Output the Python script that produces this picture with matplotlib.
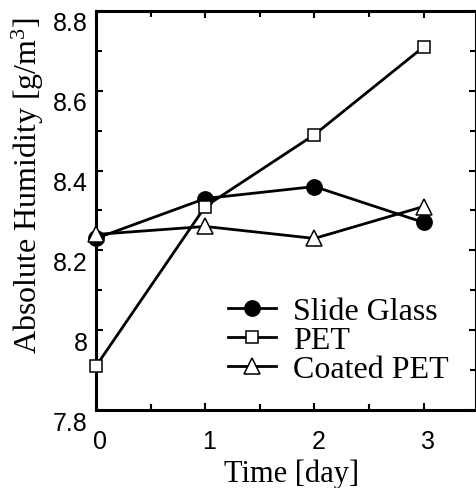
import matplotlib

matplotlib.use("Agg")

import matplotlib.pyplot as plt
import matplotlib.transforms as mtransforms
from matplotlib.ticker import MultipleLocator

# datos
days = [0, 1, 2, 3]
slide_glass = [8.23, 8.33, 8.36, 8.27]
pet = [7.91, 8.31, 8.49, 8.71]
coated_pet = [8.24, 8.26, 8.23, 8.31]
series_labels = ["Slide Glass", "PET", "Coated PET"]
yticks = [7.8, 8.0, 8.2, 8.4, 8.6, 8.8]
ytick_labels = ["7.8", "8", "8.2", "8.4", "8.6", "8.8"]

plt.rcParams["mathtext.fontset"] = "custom"
plt.rcParams["mathtext.rm"] = "Liberation Serif"
plt.rcParams["mathtext.it"] = "Liberation Serif"

fig = plt.figure(figsize=(4.77, 4.89), dpi=100)
ax = fig.add_axes([0.2013, 0.1595, 0.7967, 0.816])

kw = dict(color="black", linewidth=2.0, markeredgewidth=1.1, clip_on=False, zorder=3)
ax.plot(days, slide_glass, marker="o", markersize=11, markerfacecolor="black",
        label=series_labels[0], **kw)
ax.plot(days, pet, marker="s", markersize=9, markerfacecolor="white",
        label=series_labels[1], **kw)
ax.plot(days, coated_pet, marker="^", markersize=11, markerfacecolor="white",
        label=series_labels[2], **kw)

ax.set_xlim(0, 3.48)
ax.set_ylim(7.8, 8.8)
ax.set_xticks(days)
ax.xaxis.set_minor_locator(MultipleLocator(0.5))
ax.set_yticks(yticks)
ax.set_yticklabels(ytick_labels)
ax.yaxis.set_minor_locator(MultipleLocator(0.1))

for s in ax.spines.values():
    s.set_linewidth(2.2)

ax.tick_params(which="both", direction="in", top=True, right=True, width=1.5,
               labelsize=18)
ax.tick_params(which="major", length=5)
ax.tick_params(which="minor", length=4)
ax.tick_params(axis="x", pad=14)
ax.tick_params(axis="y", pad=6)
for lab in ax.get_xticklabels() + ax.get_yticklabels():
    lab.set_family("Liberation Sans")
# etiquetas del eje y un poco desplazadas hacia abajo, como en el original
offset = mtransforms.ScaledTranslation(0, -10 / 100, fig.dpi_scale_trans)
for lab in ax.get_yticklabels():
    lab.set_transform(lab.get_transform() + offset)
offx = mtransforms.ScaledTranslation(4 / 100, 0, fig.dpi_scale_trans)
for lab in ax.get_xticklabels():
    lab.set_transform(lab.get_transform() + offx)

ax.set_xlabel("Time [day]", family="Liberation Serif", fontsize=22, va="center")
ax.xaxis.set_label_coords(0.515, -0.158)
ax.set_ylabel("Absolute Humidity [g/m$^{3}$]", family="Liberation Serif",
              fontsize=23, va="center")
ax.yaxis.set_label_coords(-0.179, 0.566)

leg = ax.legend(loc="upper left", bbox_to_anchor=(0.347, 0.284), frameon=False,
                prop={"family": "Liberation Serif", "size": 23},
                handlelength=1.5, handletextpad=0.55, labelspacing=0.0,
                handleheight=0.5, borderpad=0, borderaxespad=0)

fig.savefig("out.png", dpi=100)
